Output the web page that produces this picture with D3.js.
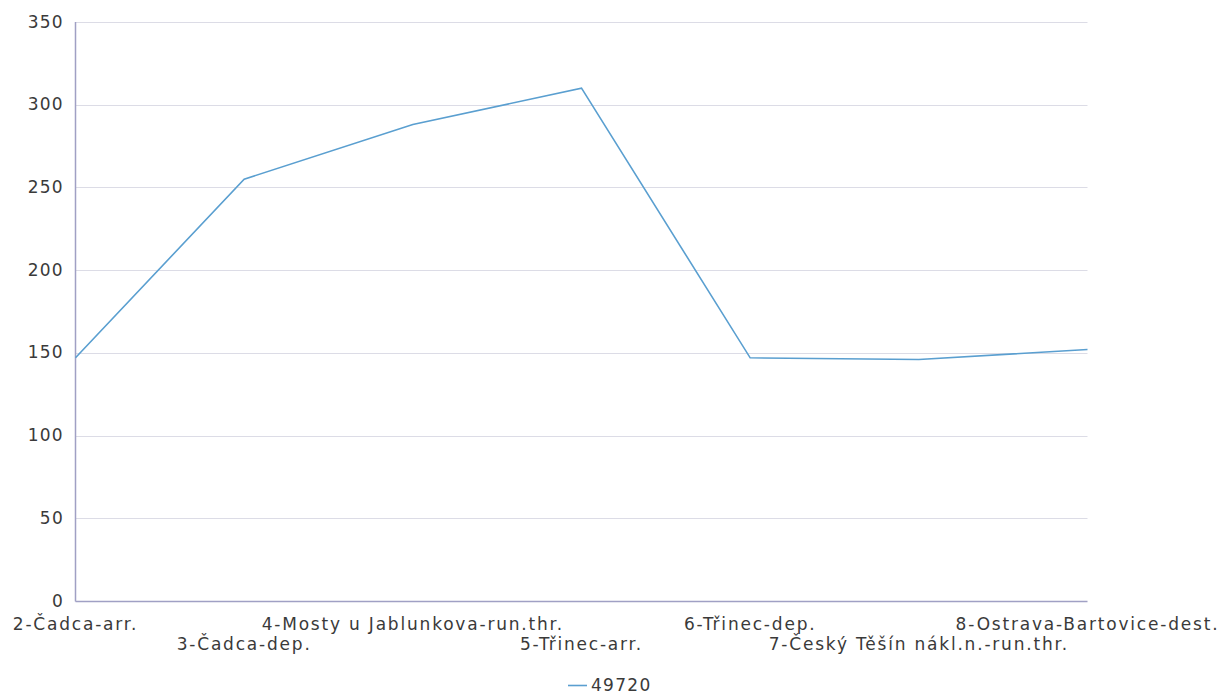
<!DOCTYPE html>
<html><head><meta charset="utf-8">
<script src="https://cdn.jsdelivr.net/npm/d3@7"></script>
<style>body{margin:0;background:#fff;font-family:"DejaVu Sans",sans-serif;}</style>
</head><body><svg id="c" width="1224" height="695"></svg>
<script>
const categories = ["2-Čadca-arr.","3-Čadca-dep.","4-Mosty u Jablunkova-run.thr.","5-Třinec-arr.","6-Třinec-dep.","7-Český Těšín nákl.n.-run.thr.","8-Ostrava-Bartovice-dest."];
const values = [147, 255, 288, 310, 147, 146, 152];
const seriesName = "49720";
const yTicks = [0,50,100,150,200,250,300,350];

const svg = d3.select("#c");
const m = {l:75.5, r:1087.5, t:22, b:601};
const x = d3.scalePoint().domain(categories).range([m.l, m.r]);
const y = d3.scaleLinear().domain([0,350]).range([m.b, m.t]);
const font = "DejaVu Sans, sans-serif";
const txt = "#3a3a3a";

// grid
svg.append("g").selectAll("line").data(yTicks.filter(d=>d>0)).join("line")
  .attr("x1", m.l).attr("x2", m.r)
  .attr("y1", d=>Math.round(y(d))+0.5).attr("y2", d=>Math.round(y(d))+0.5)
  .attr("stroke","#dcdce6").attr("stroke-width",1);

// y labels
svg.append("g").selectAll("text").data(yTicks).join("text")
  .attr("x", 64).attr("y", d=>y(d)+5.5)
  .attr("text-anchor","end").attr("font-family",font).attr("font-size",17)
  .attr("letter-spacing",1.3).attr("fill",txt).text(d=>d);

// axes
svg.append("line").attr("x1",m.l).attr("x2",m.l).attr("y1",m.t).attr("y2",m.b+0.5)
  .attr("stroke","#a0a0c4").attr("stroke-width",1.5);
svg.append("line").attr("x1",m.l).attr("x2",m.r).attr("y1",m.b+0.5).attr("y2",m.b+0.5)
  .attr("stroke","#a0a0c4").attr("stroke-width",1.5);

// x labels
svg.append("g").selectAll("text").data(categories).join("text")
  .attr("x", d=>x(d)).attr("y", (d,i)=> i%2===0 ? 630 : 650)
  .attr("text-anchor","middle").attr("font-family",font).attr("font-size",17)
  .attr("letter-spacing",1.8).attr("fill",txt).text(d=>d);

// line
const line = d3.line().x((d,i)=>x(categories[i])).y(d=>y(d));
svg.append("path").datum(values).attr("d", line)
  .attr("fill","none").attr("stroke","#5a9fd0").attr("stroke-width",1.6);

// legend
svg.append("line").attr("x1",568).attr("x2",587).attr("y1",685.5).attr("y2",685.5)
  .attr("stroke","#5a9fd0").attr("stroke-width",1.6);
svg.append("text").attr("x",591).attr("y",691).attr("font-family",font).attr("font-size",17)
  .attr("letter-spacing",1.3).attr("fill",txt).text(seriesName);
</script></body></html>
